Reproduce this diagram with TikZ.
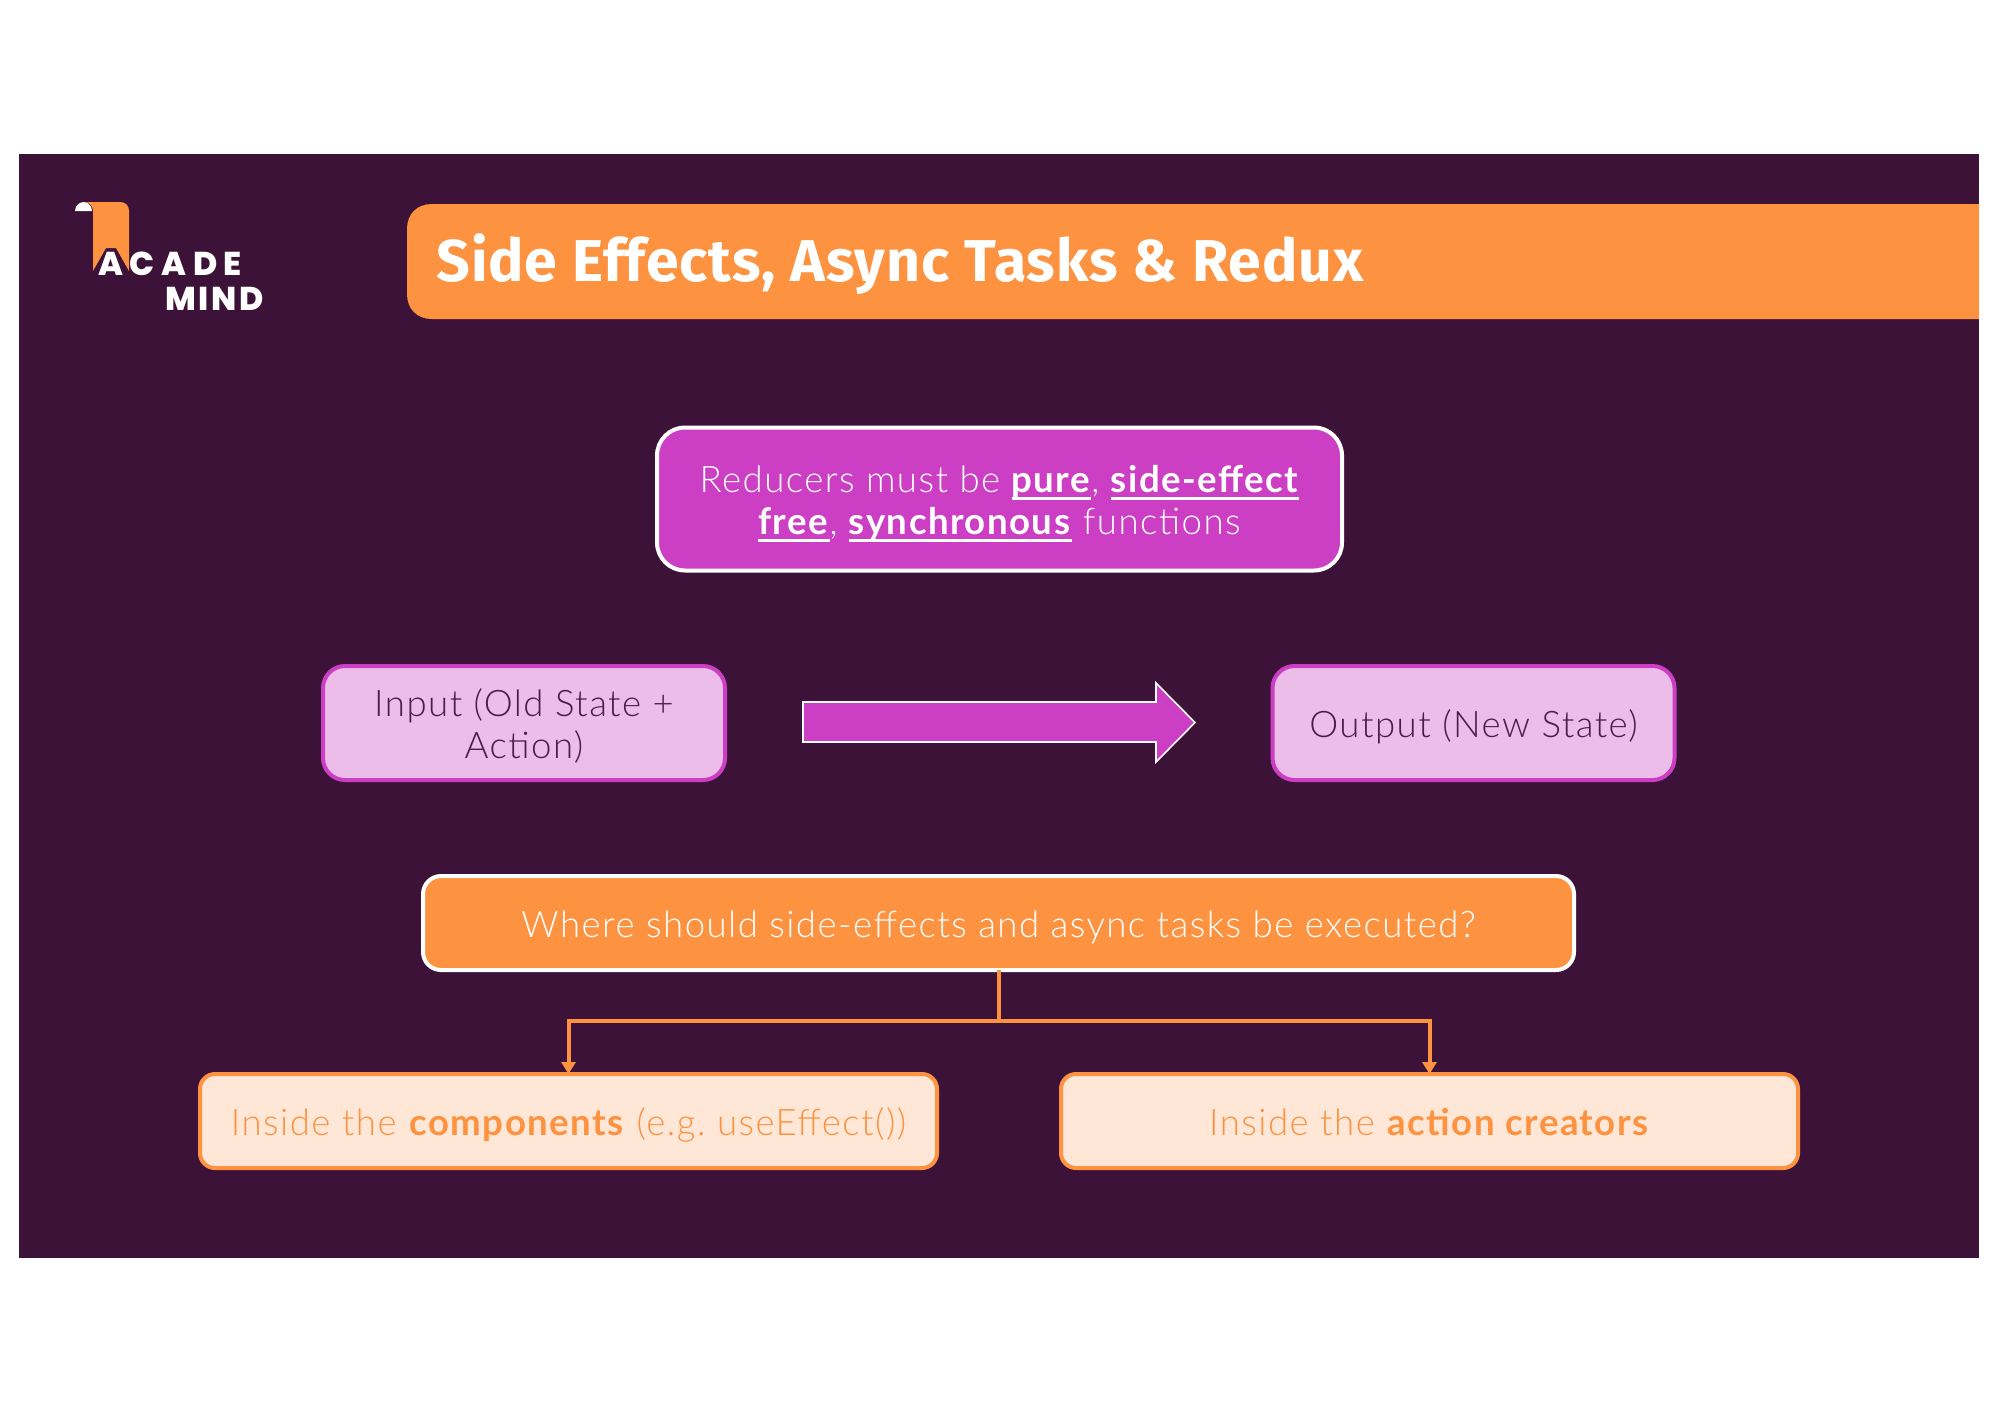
\documentclass[tikz,border=0pt]{standalone}
\usepackage{fontspec}
\usetikzlibrary{arrows.meta}
\setmainfont{Lato Light}[BoldFont={Lato Bold},LetterSpace=4]
\newfontfamily\titlefont{Fira Sans}[UprightFont={* Bold},LetterSpace=1.5]
\newfontfamily\logofont{Poppins}[UprightFont={* ExtraBold},LetterSpace=8]
\newfontfamily\logowide{Poppins}[UprightFont={* ExtraBold},LetterSpace=20]
\definecolor{bgdark}{HTML}{3D1239}
\definecolor{orangeA}{HTML}{FD9341}
\definecolor{magentaA}{HTML}{CC3FC5}
\definecolor{pinkA}{HTML}{ECBDE9}
\definecolor{peachA}{HTML}{FFE7D7}
\definecolor{inkA}{HTML}{4D1B4A}
\newcommand\ubar[1]{\setbox0\hbox{#1}\rlap{\rule[-3.9pt]{\wd0}{1.7pt}}\box0\relax}
\newcommand\firstlinestrut{\rule[-5.5pt]{0pt}{25.6pt}}
\newcommand\lastlinestrut{\rule[-6pt]{0pt}{15pt}}
\tikzset{
  x=0.5pt,y=-0.5pt,
  boxbase/.style={draw,line width=2pt,align=center,inner sep=0pt,outer sep=0pt,font=\fontsize{18.3}{21}\selectfont\frenchspacing},
  mainbox/.style={boxbase,fill=magentaA,draw=white,text=white,rounded corners=14pt,minimum width=342.5pt,minimum height=71.5pt},
  iobox/.style={boxbase,fill=pinkA,draw=magentaA,text=inkA,rounded corners=11pt,minimum width=201pt,minimum height=57pt},
  askbox/.style={boxbase,fill=orangeA,draw=white,text=white,rounded corners=9pt,minimum width=575.5pt,minimum height=47pt},
  placebox/.style={boxbase,fill=peachA,draw=orangeA,text=orangeA,rounded corners=7.5pt,minimum width=368.5pt,minimum height=47pt},
  conn/.style={draw=orangeA,line width=2pt},
  logotext/.style={text=white,inner sep=0pt}
}
\begin{document}
\begin{tikzpicture}
\useasboundingbox (0,0) rectangle (2000,1414);
\fill[white] (0,0) rectangle (2000,1414);
\fill[bgdark] (19,154) rectangle (1979,1258);
% banner
\fill[orangeA] (1979,204) -- (432,204) .. controls (417,204) and (407,214) .. (407,229)
  -- (407,294) .. controls (407,309) and (417,319) .. (432,319) -- (1979,319) -- cycle;
\node[anchor=west,text=white,inner sep=0pt,font=\titlefont\fontsize{29.5}{30}\selectfont] (title) at (436,264) {Side Effects, Async Tasks \& Redux};
% logo
\fill[white] (75,211) .. controls (75,205) and (80,202) .. (84,202) .. controls (88,202) and (92,206) .. (92,211) -- cycle;
\fill[orangeA] (84,202) -- (120,202) .. controls (126,202) and (129,206) .. (129,211) -- (129,271) -- (116,248) -- (106,248) -- (93,271) -- (93,211) .. controls (93,206) and (89,202) .. (84,202) -- cycle;
\node[logotext,anchor=base west,font=\logowide\fontsize{16.5}{16.5}\selectfont] (acade) at (98,275) {ACADE};
\node[logotext,anchor=base west,font=\logofont\fontsize{16.5}{16.5}\selectfont] (mind) at (165,310) {MIND};
% boxes
\node[mainbox] (rule) at (999.5,499) {\firstlinestrut Reducers must be \ubar{\textbf{pure}}, \ubar{\textbf{side-effect}}\\\lastlinestrut\ubar{\textbf{free}}, \ubar{\textbf{synchronous}} functions};
\node[iobox] (input) at (524,723) {\firstlinestrut Input (Old State +\\\lastlinestrut Action)};
\node[iobox] (output) at (1473.5,723) {\firstlinestrut Output (New State)};
\fill[magentaA,draw=white,line width=0.8pt] (803,702) -- (1156,702) -- (1156,683) -- (1195,722.5) -- (1156,762) -- (1156,742) -- (803,742) -- cycle;
\node[askbox] (ask) at (998.5,923) {\firstlinestrut Where should side-effects and async tasks be executed?};
\node[placebox] (comp) at (568.5,1121) {\firstlinestrut Inside the \textbf{components} (e.g. useEffect())};
\node[placebox] (creators) at (1429.5,1121) {\firstlinestrut Inside the \textbf{action creators}};
% connectors
\coordinate (junction) at (998.5,1021);
\draw[conn] (ask.south) -- (junction);
\draw[conn,-{Triangle[length=6pt,width=7pt]}] (junction) -| (comp.north);
\draw[conn,-{Triangle[length=6pt,width=7pt]}] (junction) -| (creators.north);
\end{tikzpicture}
\end{document}
